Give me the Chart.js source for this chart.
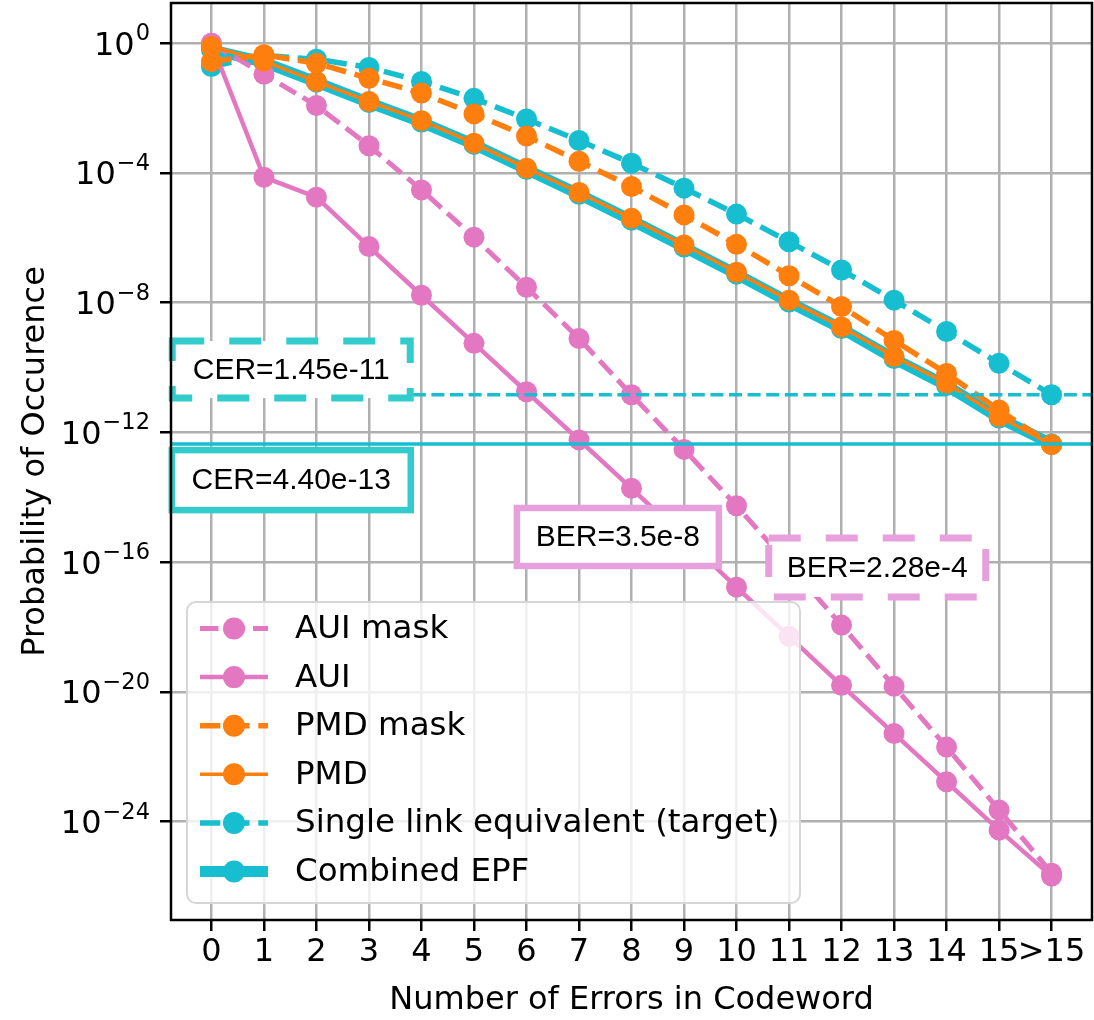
<!DOCTYPE html>
<html>
<head>
<meta charset="utf-8">
<script src="https://cdn.jsdelivr.net/npm/chart.js@4.4.1/dist/chart.umd.min.js"></script>
<style>
    html, body { margin: 0; padding: 0; background: #fff; }
    #wrap { width: 1094px; height: 1020px; }
</style>
</head>
<body>
<div id="wrap"><canvas id="chart1" width="1094" height="1020"></canvas></div>
<script>
// Categories on the x axis
const errorLabels = ["0", "1", "2", "3", "4", "5", "6", "7", "8", "9", "10", "11", "12", "13", "14", "15", ">15"];

// Series values (probability of occurence)
const auiMask = [0.98, 1.1e-1, 1.2e-2, 6.9e-4, 3.0e-5, 1.05e-6, 3.0e-8, 7.9e-10, 1.45e-11, 3.0e-13, 5.5e-15, 8.1e-17, 1.15e-18, 1.5e-20, 2.0e-22, 2.3e-24, 2.6e-26];
const aui = [1.0, 7.4e-5, 1.8e-5, 5.4e-7, 1.7e-8, 5.6e-10, 1.8e-11, 5.9e-13, 1.9e-14, 5.8e-16, 1.7e-17, 5.2e-19, 1.6e-20, 5.2e-22, 1.7e-23, 5.5e-25, 2.1e-26];
const pmdMask = [0.27, 0.44, 0.24, 8.3e-2, 2.9e-2, 6.6e-3, 1.38e-3, 2.3e-4, 3.8e-5, 5.1e-6, 6.3e-7, 6.8e-8, 7.6e-9, 6.9e-10, 6.6e-11, 4.9e-12, 4.2e-13];
const pmd = [0.79, 0.28, 6.6e-2, 1.6e-2, 4.1e-3, 8.3e-4, 1.41e-4, 2.5e-5, 4.0e-6, 6.0e-7, 8.7e-8, 1.2e-8, 1.8e-9, 2.2e-10, 3.3e-11, 3.1e-12, 4.2e-13];
const singleLink = [0.19, 0.42, 0.32, 0.18, 6.6e-2, 2.0e-2, 4.6e-3, 1.0e-3, 2.0e-4, 3.4e-5, 5.4e-6, 7.6e-7, 1.02e-7, 1.2e-8, 1.3e-9, 1.35e-10, 1.45e-11];
const combinedEpf = [0.63, 0.26, 6.3e-2, 1.48e-2, 3.7e-3, 7.6e-4, 1.29e-4, 2.2e-5, 3.5e-6, 5.2e-7, 7.6e-8, 1.05e-8, 1.6e-9, 1.9e-10, 2.8e-11, 2.8e-12, 4.4e-13];

// Reference levels (CER) drawn as horizontal lines
const cerLevels = [1.45e-11, 4.40e-13];

// Y ticks: values and the exponent shown above "10"
const yTickValues = [1e0, 1e-4, 1e-8, 1e-12, 1e-16, 1e-20, 1e-24];
const yTickExponents = ["0", "−4", "−8", "−12", "−16", "−20", "−24"];

const PINK = "#e377c2";
const ORANGE = "#ff7f0e";
const CYAN = "#17becf";
const BOX_CYAN = "#33cccc";
const BOX_PINK = "#e6a0dc";

function toPoints(values) {
    return values.map((v, i) => ({ x: i, y: v }));
}

function series(label, values, color, width, dashed, order) {
    return {
        label: label,
        data: toPoints(values),
        borderColor: color,
        backgroundColor: color,
        borderWidth: width,
        borderDash: dashed ? [3.7 * width, 1.6 * width] : [],
        pointRadius: 10.5,
        pointHoverRadius: 10.5,
        pointBorderWidth: 0,
        pointBackgroundColor: color,
        tension: 0,
        order: order
    };
}

const datasets = [
    series("AUI mask", auiMask, PINK, 5, true, 4),
    series("AUI", aui, PINK, 4.5, false, 3),
    series("PMD mask", pmdMask, ORANGE, 5.5, true, 2),
    series("PMD", pmd, ORANGE, 3.5, false, 1),
    series("Single link equivalent (target)", singleLink, CYAN, 5.5, true, 5),
    series("Combined EPF", combinedEpf, CYAN, 11, false, 6)
];

// Annotation boxes: centre in data units, size in pixels
const notes = [
    { text: "CER=1.45e-11", x: 1.52, y: 8.7e-11, w: 238, h: 57, color: BOX_CYAN, lw: 7, dash: [32, 25] },
    { text: "CER=4.40e-13", x: 1.52, y: 3.4e-14, w: 239, h: 60, color: BOX_CYAN, lw: 6.5, dash: [] },
    { text: "BER=3.5e-8", x: 7.74, y: 6.0e-16, w: 202, h: 58, color: BOX_PINK, lw: 6.5, dash: [] },
    { text: "BER=2.28e-4", x: 12.68, y: 6.9e-17, w: 217, h: 59, color: BOX_PINK, lw: 7, dash: [32, 25] }
];

const overlayPlugin = {
    id: "overlay",
    afterDatasetsDraw(chart) {
        const { ctx, chartArea: a, scales } = chart;
        const xs = scales.x, ys = scales.y;

        // CER lines across the plot
        ctx.save();
        ctx.beginPath();
        ctx.rect(a.left, a.top, a.right - a.left, a.bottom - a.top);
        ctx.clip();
        cerLevels.forEach((lvl, i) => {
            const py = ys.getPixelForValue(lvl);
            ctx.strokeStyle = CYAN;
            ctx.lineWidth = 3.5;
            ctx.setLineDash(i === 0 ? [13, 5.6] : []);
            ctx.beginPath();
            ctx.moveTo(a.left, py);
            ctx.lineTo(a.right, py);
            ctx.stroke();
        });
        ctx.restore();

        // Boxes with CER / BER values
        notes.forEach(n => {
            const cx = xs.getPixelForValue(n.x);
            const cy = ys.getPixelForValue(n.y);
            ctx.save();
            ctx.fillStyle = "#fff";
            ctx.fillRect(cx - n.w / 2, cy - n.h / 2, n.w, n.h);
            ctx.strokeStyle = n.color;
            ctx.lineWidth = n.lw;
            ctx.setLineDash(n.dash);
            ctx.strokeRect(cx - n.w / 2, cy - n.h / 2, n.w, n.h);
            ctx.setLineDash([]);
            ctx.fillStyle = "#000";
            ctx.font = "30px 'Liberation Sans', Arial, sans-serif";
            ctx.textAlign = "center";
            ctx.textBaseline = "middle";
            ctx.fillText(n.text, cx, cy + 1);
            ctx.restore();
        });

        // Legend
        const lx = 187, ly = 602, lw = 613, lh = 301;
        ctx.save();
        ctx.beginPath();
        ctx.roundRect(lx, ly, lw, lh, 9);
        ctx.fillStyle = "rgba(255,255,255,0.8)";
        ctx.fill();
        ctx.strokeStyle = "#d6d6d6";
        ctx.lineWidth = 2;
        ctx.stroke();
        datasets.forEach((ds, i) => {
            const ry = 628.5 + i * 48.6;
            ctx.strokeStyle = ds.borderColor;
            ctx.lineWidth = ds.borderWidth;
            ctx.setLineDash(ds.borderDash);
            ctx.beginPath();
            ctx.moveTo(200, ry);
            ctx.lineTo(268, ry);
            ctx.stroke();
            ctx.setLineDash([]);
            ctx.fillStyle = ds.borderColor;
            ctx.beginPath();
            ctx.arc(234, ry, 11, 0, Math.PI * 2);
            ctx.fill();
            ctx.fillStyle = "#000";
            ctx.font = "32.5px 'DejaVu Sans'";
            ctx.textAlign = "left";
            ctx.textBaseline = "middle";
            ctx.fillText(ds.label, 295, ry + 1);
        });
        ctx.restore();

        // Axes frame
        ctx.save();
        ctx.strokeStyle = "#000";
        ctx.lineWidth = 2.5;
        ctx.strokeRect(a.left, a.top, a.right - a.left, a.bottom - a.top);
        ctx.restore();

        // Y tick labels as 10 with a raised exponent
        ctx.save();
        ctx.fillStyle = "#000";
        ctx.textBaseline = "alphabetic";
        ctx.textAlign = "left";
        const rightEdge = a.left - 21;
        yTickValues.forEach((v, i) => {
            const py = ys.getPixelForValue(v);
            ctx.font = "22.5px 'DejaVu Sans'";
            const expW = ctx.measureText(yTickExponents[i]).width;
            ctx.font = "32px 'DejaVu Sans'";
            const baseW = ctx.measureText("10").width;
            const x0 = rightEdge - expW - baseW - 1;
            ctx.fillText("10", x0, py + 11.5);
            ctx.font = "22.5px 'DejaVu Sans'";
            ctx.fillText(yTickExponents[i], x0 + baseW + 1, py - 3);
        });
        ctx.restore();
    }
};

const ctx = document.getElementById("chart1").getContext("2d");
new Chart(ctx, {
    type: "line",
    data: { datasets: datasets },
    plugins: [overlayPlugin],
    options: {
        responsive: false,
        animation: false,
        devicePixelRatio: 1,
        layout: { autoPadding: false, padding: { top: 3, right: 2, left: 0, bottom: 0 } },
        plugins: {
            legend: { display: false },
            tooltip: { enabled: false }
        },
        scales: {
            x: {
                type: "linear",
                min: -0.77,
                max: 16.77,
                afterBuildTicks: scale => {
                    scale.ticks = errorLabels.map((_, i) => ({ value: i }));
                },
                afterFit: scale => {
                    scale.height = 100;
                    scale.paddingLeft = 0;
                    scale.paddingRight = 0;
                },
                ticks: {
                    autoSkip: false,
                    maxRotation: 0,
                    padding: 2,
                    color: "#000",
                    font: { family: "'DejaVu Sans'", size: 32 },
                    callback: value => errorLabels[value]
                },
                grid: { color: "#b0b0b0", lineWidth: 2.5, tickLength: 11, tickColor: "#000", tickWidth: 2.5 },
                border: { display: false },
                title: {
                    display: true,
                    text: "Number of Errors in Codeword",
                    color: "#000",
                    font: { family: "'DejaVu Sans'", size: 32 },
                    padding: { top: 0, bottom: 0 }
                }
            },
            y: {
                type: "logarithmic",
                min: Math.pow(10, -27.03),
                max: Math.pow(10, 1.24),
                afterBuildTicks: scale => {
                    scale.ticks = yTickValues.map(v => ({ value: v }));
                },
                afterFit: scale => {
                    scale.width = 171;
                    scale.paddingTop = 0;
                    scale.paddingBottom = 0;
                },
                ticks: {
                    autoSkip: false,
                    padding: 0,
                    font: { family: "'DejaVu Sans'", size: 1 },
                    callback: () => ""
                },
                grid: { color: "#b0b0b0", lineWidth: 2.5, tickLength: 11, tickColor: "#000", tickWidth: 2.5 },
                border: { display: false },
                title: {
                    display: true,
                    text: "Probability of Occurence",
                    color: "#000",
                    font: { family: "'DejaVu Sans'", size: 32 },
                    padding: { top: 16, bottom: 0 }
                }
            }
        }
    }
});
</script>
</body>
</html>
